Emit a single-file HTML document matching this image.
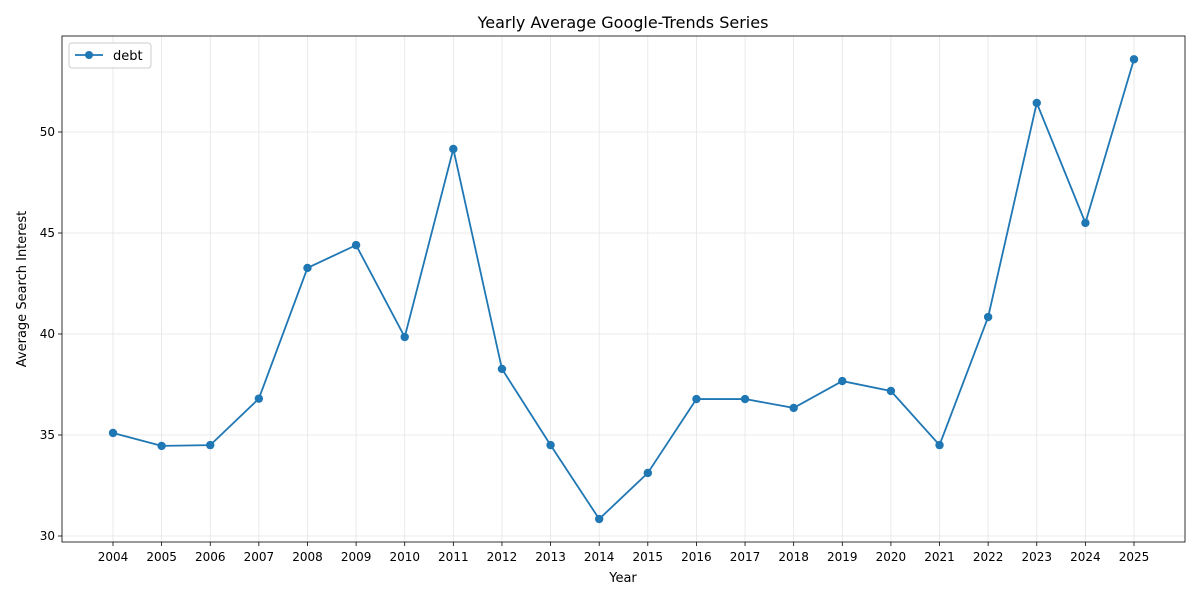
<!DOCTYPE html>
<html><head><meta charset="utf-8"><style>
body{margin:0;background:#fff;font-family:"Liberation Sans","DejaVu Sans",sans-serif;}
svg text{font-family:"DejaVu Sans","Liberation Sans",sans-serif;}
</style></head><body>
<svg id="chart" width="1200" height="600" xmlns="http://www.w3.org/2000/svg">
<rect width="1200" height="600" fill="#fff"/>
<g id="grid"></g>
<rect x="62" y="36" width="1123" height="506" fill="none" stroke="#000" stroke-width="0.8"/>
<g id="axes"></g>
<g id="series"></g>
<text x="623" y="28" text-anchor="middle" font-size="16">Yearly Average Google-Trends Series</text>
<text x="623" y="582" text-anchor="middle" font-size="13">Year</text>
<text transform="translate(26,289) rotate(-90)" text-anchor="middle" font-size="13">Average Search Interest</text>
<g>
<rect x="69" y="43" width="82" height="25" rx="3" fill="#fff" stroke="#ccc"/>
<line x1="75" y1="55" x2="103" y2="55" stroke="#1f77b4" stroke-width="1.8"/>
<circle cx="89" cy="55" r="4" fill="#1f77b4"/>
<text x="113" y="60" font-size="13">debt</text>
</g>
</svg>
<script>
const years=[2004,2005,2006,2007,2008,2009,2010,2011,2012,2013,2014,2015,2016,2017,2018,2019,2020,2021,2022,2023,2024,2025];
const debt=[35.1,34.46,34.5,36.8,43.27,44.4,39.85,49.16,38.27,34.5,30.84,33.12,36.78,36.78,36.34,37.67,37.18,34.5,40.84,51.44,45.5,53.6];
const yTicks=[30,35,40,45,50];
const NS="http://www.w3.org/2000/svg";
function X(yr){return 113+(yr-2004)*(1021/21);}
function Y(v){return 536-(v-30)*20.2;}
function mk(tag,attrs,parent){const e=document.createElementNS(NS,tag);for(const k in attrs)e.setAttribute(k,attrs[k]);parent.appendChild(e);return e;}
const grid=document.getElementById('grid'),axes=document.getElementById('axes'),series=document.getElementById('series');
years.forEach(yr=>{
  const x=X(yr);
  mk('line',{x1:x,x2:x,y1:36,y2:542,stroke:'#e5e5e5','stroke-width':0.8},grid);
  mk('line',{x1:x,x2:x,y1:542,y2:546,stroke:'#000','stroke-width':0.8},axes);
  const t=mk('text',{x:x,y:561,'text-anchor':'middle','font-size':12},axes);
  t.textContent=yr;
  
  
});
yTicks.forEach(v=>{
  const y=Y(v);
  mk('line',{x1:62,x2:1185,y1:y,y2:y,stroke:'#e5e5e5','stroke-width':0.8},grid);
  mk('line',{x1:58,x2:62,y1:y,y2:y,stroke:'#000','stroke-width':0.8},axes);
  const t=mk('text',{x:55,y:y+4,'text-anchor':'end','font-size':12},axes);
  t.textContent=v;
  
  
});
const pl=mk('polyline',{points:years.map((yr,i)=>X(yr)+','+Y(debt[i])).join(' '),fill:'none',stroke:'#1f77b4','stroke-width':1.8},series);


years.forEach((yr,i)=>{
  const c=mk('circle',{cx:X(yr),cy:Y(debt[i]),r:4.2,fill:'#1f77b4'},series);
  
  
});
</script>
</body></html>
